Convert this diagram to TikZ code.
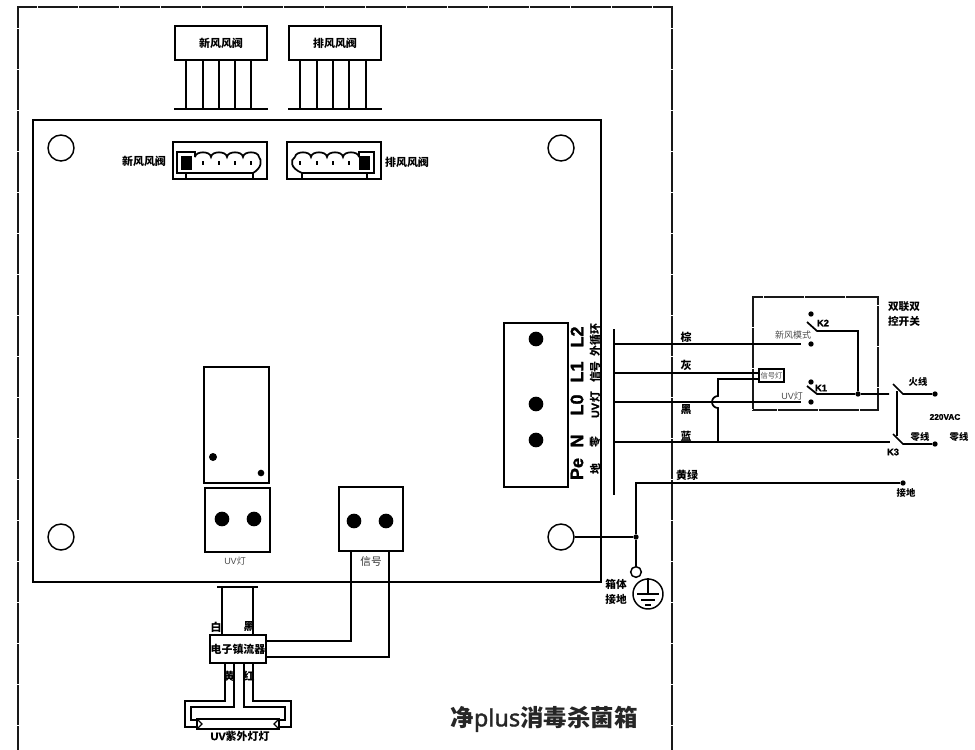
\documentclass[tikz,border=0pt]{standalone}
\usepackage{fontspec}
\setmainfont{Noto Sans CJK SC}
\newfontfamily\heavyfont{Noto Sans CJK SC Black}
\newfontfamily\latinfont{Liberation Sans}[BoldFeatures={FakeBold=1.5}]
\newfontfamily\plusfont{Noto Sans}[FakeBold=1.6]
\tikzset{
  wire/.style={black, line width=1.3pt},
  thinwire/.style={black, line width=0.9pt},
  framebox/.style={black!90, line width=1pt, dash pattern=on 6pt off 0.15pt},
  blockbox/.style={draw, black, line width=1.3pt, inner sep=0pt},
  hole/.style={draw, black, circle, line width=1.1pt, inner sep=0pt, minimum size=19.5pt},
  pin/.style={fill=black, circle, inner sep=0pt},
  boldlabel/.style={font=\heavyfont\fontsize{8.2pt}{9pt}\selectfont, inner sep=0pt, text=black},
  smalllabel/.style={font=\heavyfont\fontsize{7pt}{8pt}\selectfont, inner sep=0pt, text=black},
  greylabel/.style={font=\fontsize{6.75pt}{8pt}\selectfont, inner sep=0pt, text=black!70},
  rotlabel/.style={boldlabel, rotate=90},
  biglabel/.style={font=\latinfont\bfseries\fontsize{13.5pt}{14pt}\selectfont, inner sep=0pt, rotate=90},
}
\begin{document}
\begin{tikzpicture}[x=0.75pt,y=-0.75pt]
  \useasboundingbox (0,0) rectangle (975,750);

  \draw[framebox] (18,750) -- (18,7) -- (672,7) -- (672,750);
  \node[blockbox, minimum width=426pt, minimum height=346.5pt] (board) at (317,351) {};

  \node[blockbox, minimum width=69pt, minimum height=25.5pt, boldlabel] (newvalve) at (221,43) {新风风阀};
  \node[blockbox, minimum width=69pt, minimum height=25.5pt, boldlabel] (outvalve) at (335,43) {排风风阀};
  \coordinate (newbaseL) at (174,109);
  \coordinate (newbaseR) at (268,109);
  \coordinate (outbaseL) at (288,109);
  \coordinate (outbaseR) at (382,109);
  \draw[wire] (newbaseL) -- (newbaseR);
  \draw[wire] (outbaseL) -- (outbaseR);
  \foreach \x in {186,203,219,235,251}
    \draw[wire] (newvalve.south -| \x,0) -- (newbaseL -| \x,0);
  \foreach \x in {300,317,333,349,366}
    \draw[wire] (outvalve.south -| \x,0) -- (outbaseL -| \x,0);

  \draw[wire] (173,179) -- (173,142) -- (267,142) -- (267,179) -- cycle;
  \draw[wire] (195,157) -- (195,152) -- (177,152) -- (177,173) -- (253,173)
    .. controls (262,168) and (262,160) .. (259,157);
  \draw[wire] (195,157) to[bend left=85] (211,157) to[bend left=85] (227,157) to[bend left=85] (243,157) to[bend left=85] (259,157);
  \fill (181,156) rectangle (192,170);
  \draw[wire] (186,173) -- (186,179);
  \draw[wire] (253,173) -- (253,179);
  \foreach \x in {203,219,235,251}
    \draw[thinwire] (\x,161) -- (\x,165);

  \draw[wire] (287,179) -- (287,142) -- (381,142) -- (381,179) -- cycle;
  \draw[wire] (359,157) -- (359,152) -- (374,152) -- (374,173) -- (302,173)
    .. controls (290,168) and (290,160) .. (295,157);
  \draw[wire] (359,157) to[bend right=85] (343,157) to[bend right=85] (327,157) to[bend right=85] (311,157) to[bend right=85] (295,157);
  \fill (359,156) rectangle (370,170);
  \draw[wire] (302,173) -- (302,179);
  \draw[wire] (367,173) -- (367,179);
  \foreach \x in {300,317,333,349}
    \draw[thinwire] (\x,161) -- (\x,165);

  \node[boldlabel] (newlabel) at (144,161) {新风风阀};
  \node[boldlabel] (outlabel) at (407,162) {排风风阀};

  \node[hole] (holeA) at (61,148) {};
  \node[hole] (holeB) at (561,148) {};
  \node[hole] (holeC) at (61,537) {};
  \node[hole] (holeD) at (561,537) {};

  \node[blockbox, minimum width=49pt, minimum height=87pt] (relay) at (236.5,425) {};
  \node[pin, minimum size=6pt] (relayA) at (213,457) {};
  \node[pin, minimum size=5pt] (relayB) at (261,473) {};

  \node[blockbox, minimum width=49pt, minimum height=48pt] (uvblock) at (237.5,520) {};
  \node[pin, minimum size=11pt] (uvA) at (222,519) {};
  \node[pin, minimum size=11pt] (uvB) at (254,519) {};
  \node[greylabel] (uvlabel) at (235,561) {{\latinfont UV}灯};

  \node[blockbox, minimum width=48pt, minimum height=48pt] (sigblock) at (371,519) {};
  \node[pin, minimum size=11pt] (sigA) at (354,521) {};
  \node[pin, minimum size=11pt] (sigB) at (386,521) {};
  \node[font=\fontsize{8pt}{9pt}\selectfont, inner sep=0pt, text=black!80] (siglabel) at (371,561) {信号};

  \node[blockbox, minimum width=48pt, minimum height=123pt] (terminal) at (536,405) {};
  \node[pin, minimum size=11pt] (termA) at (536,339) {};
  \node[pin, minimum size=11pt] (termB) at (536,404) {};
  \node[pin, minimum size=11pt] (termC) at (536,440) {};
  \node[biglabel] (labL2) at (577,337) {L2};
  \node[biglabel] (labL1) at (577,372) {L1};
  \node[biglabel] (labL0) at (577,405) {L0};
  \node[biglabel] (labN) at (577,441) {N};
  \node[biglabel] (labPe) at (577,469) {Pe};
  \node[rotlabel] (labout) at (595,340) {外循环};
  \node[rotlabel] (labsig) at (595,372) {信号};
  \node[rotlabel] (labuv) at (595,405) {{\latinfont\bfseries UV}灯};
  \node[rotlabel] (labzero) at (595,442) {零};
  \node[rotlabel] (labgnd) at (595,469) {地};

  \coordinate (barT) at (614,329);
  \coordinate (barB) at (614,495);
  \draw[wire] (barT) -- (barB);

  \node[blockbox, framebox, draw=black!90, minimum width=93.75pt, minimum height=84.75pt] (switchbox) at (815.5,353.5) {};
  \node[blockbox, fill=white, minimum width=18.75pt, minimum height=9.75pt, greylabel, font=\fontsize{5.5pt}{6pt}\selectfont] (lamp) at (771.5,375.5) {信号灯};
  \node[boldlabel, font=\heavyfont\fontsize{8pt}{11pt}\selectfont, align=left] (switchlabel) at (904,314) {双联双\\控开关};

  \node[pin, minimum size=4pt] (k2top) at (811,314) {};
  \node[pin, minimum size=4pt] (k2low) at (811,344) {};
  \node[pin, minimum size=4pt] (k1top) at (811,382) {};
  \node[pin, minimum size=4pt] (k1low) at (811,402) {};
  \node[pin, minimum size=4pt] (k1dot) at (858,394) {};
  \coordinate (k2armA) at (807,322);
  \coordinate (k2armB) at (817,331);
  \coordinate (k1armA) at (807,386);
  \coordinate (k1armB) at (817,394);
  \draw[wire] (k2armA) -- (k2armB) -- (k2armB -| k1dot) -- (k1dot);
  \draw[wire] (k1armA) -- (k1armB) -- (k1dot) -- (889,394);
  \node[smalllabel] (k2label) at (823,323) {\latinfont\bfseries K2};
  \node[smalllabel] (k1label) at (821,388) {\latinfont\bfseries K1};
  \node[greylabel] (modelabel) at (793,335) {新风模式};
  \node[greylabel] (uvmode) at (792,396) {{\latinfont UV}灯};

  \coordinate (w1end) at (801,344);
  \coordinate (w3end) at (801,402);
  \coordinate (w4end) at (890,442);
  \draw[wire] (barT |- w1end) -- (w1end);
  \draw[wire] (barT |- 0,373) -- (lamp.west |- 0,373);
  \draw[wire] (barT |- w3end) -- (w3end);
  \draw[wire] (barT |- w4end) -- (w4end);
  \draw[wire] (718,442) -- (718,408) arc[start angle=-270, end angle=-90, radius=6] -- (718,379) -- (lamp.west |- 0,379);

  \node[boldlabel] (brown) at (686,337) {棕};
  \node[boldlabel] (grey) at (686,365) {灰};
  \node[boldlabel] (black) at (686,410) {黑};
  \node[boldlabel] (blue) at (686,436) {蓝};
  \node[boldlabel] (yellowgreen) at (687,475) {黄绿};

  \node[pin, minimum size=4pt] (livedot) at (935,394) {};
  \node[pin, minimum size=4pt] (zerodot) at (935,444) {};
  \coordinate (k3topA) at (893,384);
  \coordinate (k3topB) at (903,394);
  \coordinate (k3lowA) at (893,434);
  \coordinate (k3lowB) at (903,444);
  \draw[wire] (k3topA) -- (k3topB) -- (livedot);
  \draw[wire] (k3lowA) -- (k3lowB) -- (zerodot);
  \draw[black, line width=2.2pt] (897,391) -- (897,436);
  \node[smalllabel] (live) at (918,382) {火线};
  \node[smalllabel] (zeroA) at (920,437) {零线};
  \node[smalllabel] (zeroB) at (959,437) {零线};
  \node[smalllabel, font=\latinfont\bfseries\fontsize{6.2pt}{7pt}\selectfont] (vac) at (945,417) {220VAC};
  \node[smalllabel] (k3label) at (893,452) {\latinfont\bfseries K3};

  \node[pin, minimum size=4pt] (earthend) at (903,483) {};
  \node[pin, minimum size=4pt] (earthjoin) at (636,537) {};
  \node[draw, black, circle, line width=1.1pt, inner sep=0pt, minimum size=8pt] (earthring) at (636,572) {};
  \node[smalllabel] (earthlabel) at (906,493) {接地};
  \draw[wire] (earthend) -- (636,483) -- (earthjoin) -- (earthring);
  \draw[thinwire] (holeD) -- (earthjoin);
  \node[boldlabel, font=\heavyfont\fontsize{8pt}{11pt}\selectfont, align=center] (caselabel) at (616,592) {箱体\\接地};
  \node[draw, black, circle, line width=1.1pt, inner sep=0pt, minimum size=22.5pt] (earthmark) at (648,594) {};
  \draw[thinwire] (earthmark.north) -- (648,594);
  \draw[thinwire] (637,594) -- (659,594);
  \draw[thinwire] (641,600) -- (655,600);
  \draw[thinwire] (645,605) -- (651,605);

  \node[blockbox, minimum width=42pt, minimum height=21pt, boldlabel] (ballast) at (238,649) {电子镇流器};
  \coordinate (mainsbarL) at (217,587);
  \coordinate (mainsbarR) at (258,587);
  \draw[wire] (mainsbarL) -- (mainsbarR);
  \draw[wire] (222,587) -- (222,635);
  \draw[wire] (253,587) -- (253,635);
  \node[boldlabel] (white) at (216,627) {白};
  \node[boldlabel] (blackmark) at (249,627) {黑};
  \coordinate (sigwireA) at (351,551);
  \coordinate (sigwireB) at (389,551);
  \draw[wire] (sigwireA) |- (ballast.east |- 0,641);
  \draw[wire] (sigwireB) |- (ballast.east |- 0,657);

  \node[blockbox, minimum width=61.5pt, minimum height=7.5pt] (tube) at (238,724) {};
  \draw[wire] (ballast.south -| 225,0) -- (225,701) -- (185,701) -- (185,727) -- (tube.west |- 0,727);
  \draw[wire] (ballast.south -| 234,0) -- (234,707) -- (191,707) -- (191,720) -- (tube.west |- 0,720);
  \draw[wire] (ballast.south -| 244,0) -- (244,707) -- (285,707) -- (285,720) -- (tube.east |- 0,720);
  \draw[wire] (ballast.south -| 253,0) -- (253,701) -- (291,701) -- (291,727) -- (tube.east |- 0,727);
  \draw[thinwire] (198,720) -- (202,724) -- (198,728);
  \draw[thinwire] (278,720) -- (274,724) -- (278,728);
  \node[boldlabel] (yellow) at (229,676) {黄};
  \node[boldlabel] (red) at (249,676) {红};
  \node[boldlabel] (tubelabel) at (240,736) {{\latinfont\bfseries UV}紫外灯灯};

  \node[font=\bfseries\fontsize{17.6pt}{18pt}\selectfont, inner sep=0pt, text=black!85] (title) at (544,719) {净{\plusfont plus}消毒杀菌箱};
\end{tikzpicture}
\end{document}
